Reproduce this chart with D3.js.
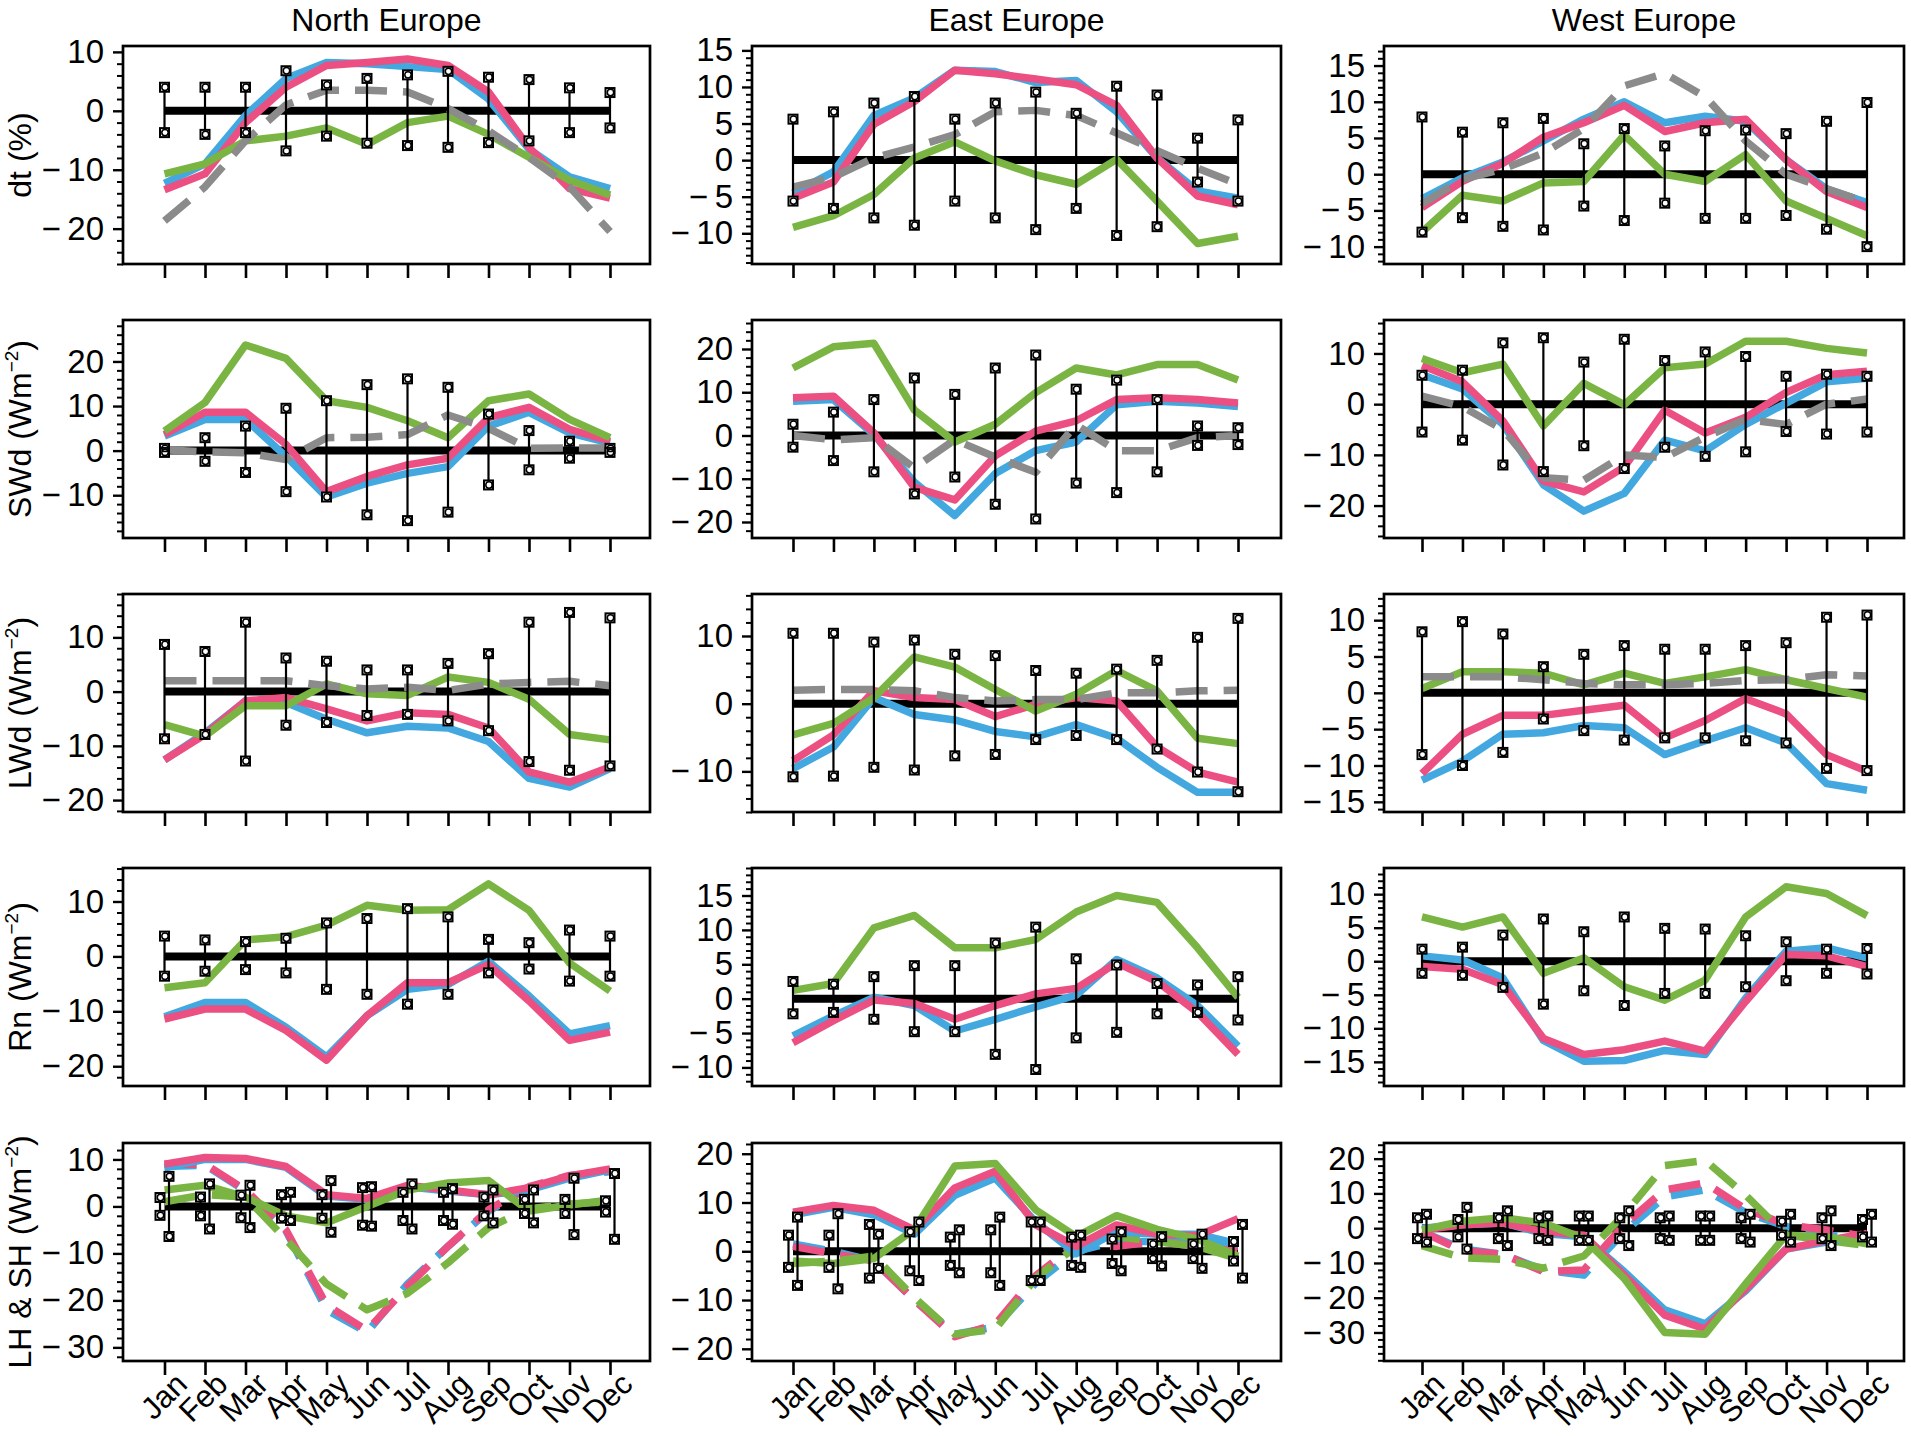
<!DOCTYPE html>
<html>
<head>
<meta charset="utf-8">
<script src="https://cdn.jsdelivr.net/npm/d3@7"></script>
<style>
  body { margin: 0; background: #fff; }
  text { font-family: "Liberation Sans", Arial, Helvetica, sans-serif; fill: #000; }
</style>
</head>
<body>
<svg id="chart"></svg>
<script>
const months = ["Jan", "Feb", "Mar", "Apr", "May", "Jun", "Jul", "Aug", "Sep", "Oct", "Nov", "Dec"];
const regions = ["North Europe", "East Europe", "West Europe"];
const rowNames = ["dt", "SWd", "LWd", "Rn", "LH & SH"];

// series order in each panel array: blue, pink, green, grey (grey dashed, where present)
// error arrays: [upper, lower]

// ---- dt (%)
const dtNorth = [
  [-12.3, -9, -0.8, 5.5, 8.2, 8, 7.5, 7, 2, -6.5, -11.2, -13.2],
  [-13.4, -10.7, -2, 4, 7.7, 8.2, 8.8, 7.7, 3.2, -6.2, -13.2, -14.8],
  [-10.7, -9, -5.1, -4.3, -2.9, -5.7, -2, -0.9, -4, -7.9, -11.8, -14.3],
  [-18.7, -12.9, -5.1, 1, 3.5, 3.5, 3.2, 0.4, -3.4, -7.9, -12.9, -20.5]
];
const dtNorthErr = [
  [4, 4, 4, 6.8, 4.4, 5.5, 6.1, 6.7, 5.7, 5.3, 3.9, 3.1],
  [-3.7, -4, -3.7, -6.8, -4.3, -5.5, -5.9, -6.2, -5.4, -5.1, -3.7, -2.9]
];
const dtEast = [
  [-4.5, -1.6, 6.1, 8.5, 12.3, 12.1, 10.6, 10.9, 6.6, 0.3, -4.2, -5.2],
  [-5.2, -3, 4.9, 8, 12.3, 11.8, 11.1, 10.3, 7.5, 0.3, -4.9, -6.1],
  [-9.2, -7.6, -4.7, 0.3, 2.5, -0.1, -2, -3.3, 0.1, -5.6, -11.4, -10.4],
  [-3.7, -2.3, 0.3, 1.8, 3.5, 6.6, 6.8, 6.1, 3.7, 1.3, -1.1, -3.3]
];
const dtEastErr = [
  [5.6, 6.6, 7.8, 8.7, 5.6, 7.8, 9.3, 6.4, 10.1, 8.9, 3, 5.5],
  [-5.6, -6.6, -7.9, -8.9, -5.6, -7.9, -9.5, -6.6, -10.3, -9.1, -3, -5.6]
];
const dtWest = [
  [-3.4, -0.5, 1.7, 4.6, 7.6, 10, 7.1, 8, 7.3, 2, -2, -3.9],
  [-4.6, -1, 1.5, 5.1, 7.1, 9.5, 5.9, 7.1, 7.6, 2, -2.4, -4.6],
  [-8, -2.9, -3.7, -1.2, -1, 5.4, 0, -1, 2.7, -3.7, -6.1, -8.5],
  [-4.1, -0.7, 0.7, 2.9, 6.3, 12.2, 13.9, 10.7, 4.6, 0, -2, -3.9]
];
const dtWestErr = [
  [7.9, 5.8, 7.1, 7.7, 4.2, 6.3, 3.9, 6, 6.1, 5.6, 7.3, 9.9],
  [-8, -6, -7.2, -7.7, -4.4, -6.4, -4, -6.1, -6.1, -5.7, -7.6, -10]
];

// ---- SWd (Wm-2)
const swNorth = [
  [3.3, 7, 7, -1.3, -10.4, -7.3, -5.1, -3.6, 5.5, 8.6, 4, 1.7],
  [3.6, 8.6, 8.6, 1.4, -9.2, -5.8, -3.2, -1.7, 7.4, 9.7, 4.8, 2.1],
  [4.4, 10.8, 23.7, 20.7, 11.2, 9.7, 6.7, 2.9, 11.2, 12.7, 7, 2.9],
  [0.2, -0.3, -0.5, -2, 2.9, 3, 3.6, 8, 5, 0.5, 0.6, 0.6]
];
const swNorthErr = [
  [0.5, 2.9, 5.5, 9.5, 11.2, 14.8, 16.1, 14.2, 8.2, 4.5, 2.1, 0.5],
  [-0.4, -2.4, -4.9, -9.2, -10.4, -14.4, -15.7, -13.8, -7.7, -4.3, -1.7, -0.4]
];
const swEast = [
  [7.9, 8.3, 0.2, -10.8, -18.5, -8.8, -3.5, -1.5, 7.1, 7.9, 7.5, 6.7],
  [8.7, 9.1, 0.6, -12, -14.9, -4.7, 1, 3.4, 8.3, 8.7, 8.3, 7.5],
  [15.6, 20.5, 21.3, 5.9, -1.5, 2.6, 9.9, 15.6, 14, 16.4, 16.4, 12.8],
  [0, -1, -0.5, -7.5, -1, -5, -8.5, 2.5, -3.5, -3.5, -0.5, 0]
];
const swEastErr = [
  [2.6, 5.4, 8.3, 13.3, 9.5, 15.6, 18.6, 10.7, 12.8, 8.3, 2.2, 1.8],
  [-2.7, -5.8, -8.4, -13.5, -9.6, -15.9, -19.3, -11, -13.2, -8.4, -2.3, -2.1]
];
const swWest = [
  [5.8, 3, -4, -15.9, -21.1, -17.6, -7.1, -9.2, -4, 0.2, 4.4, 5.1],
  [7.6, 4.4, -3.3, -15.2, -17.3, -12.4, -1.2, -5.7, -2.6, 2.3, 5.8, 6.5],
  [9, 6.2, 7.9, -4.3, 4.1, -0.1, 7.2, 7.9, 12.4, 12.4, 11, 10.1],
  [1.6, -0.5, -5, -14.5, -15, -10, -10.5, -6.5, -3, -4, 0, 1]
];
const swWestErr = [
  [5.7, 6.7, 12.1, 13.1, 8.3, 12.8, 8.6, 10.3, 9.4, 5.5, 5.9, 5.5],
  [-5.5, -7.1, -12, -13.3, -8.2, -12.7, -8.5, -10.3, -9.4, -5.4, -5.9, -5.5]
];

// ---- LWd (Wm-2)
const lwNorth = [
  [-12.6, -7.6, -1.7, -2, -5.1, -7.6, -6.4, -6.7, -9.2, -16, -17.6, -14.2],
  [-12.6, -7.9, -1.7, -1.1, -3.2, -5.4, -3.9, -4.2, -6.7, -14.8, -16.7, -13.9],
  [-6.1, -8.2, -2.6, -2.6, 1.4, -0.4, -0.7, 2.7, 1.7, -1.4, -7.9, -8.9],
  [2, 2, 2, 2, 1.1, 0.5, 0.8, 0.2, 1.4, 1.7, 1.9, 1.1]
];
const lwNorthErr = [
  [8.7, 7.4, 12.8, 6.2, 5.6, 4, 4, 5.2, 7, 12.8, 14.6, 13.6],
  [-8.7, -7.9, -12.8, -6.2, -5.7, -4.4, -4.2, -5.4, -7.2, -12.9, -14.5, -13.7]
];
const lwEast = [
  [-9.6, -6.4, 0.9, -1.6, -2.4, -4.1, -4.9, -3.1, -5.1, -9.4, -13.1, -13.1],
  [-8.4, -4.6, 1.9, 0.9, 0.6, -1.9, -0.1, 0.9, 0.4, -6.4, -10.1, -11.6],
  [-4.6, -2.9, 0.9, 6.9, 5.4, 2.1, -1.1, 1.4, 4.9, 1.9, -5.1, -5.9],
  [2, 2.1, 2.1, 1.9, 0.9, 0.4, 0.6, 0.6, 1.6, 1.6, 1.9, 2]
];
const lwEastErr = [
  [10.4, 10.4, 9.1, 9.4, 7.3, 7.1, 4.9, 4.5, 5.1, 6.4, 9.8, 12.6],
  [-10.8, -10.7, -9.4, -9.8, -7.7, -7.5, -5.3, -4.7, -5.3, -6.7, -10.1, -13]
];
const lwWest = [
  [-12, -9.4, -5.7, -5.5, -4.5, -4.8, -8.5, -6.6, -4.8, -6.9, -12.5, -13.4],
  [-11.1, -5.7, -3.1, -3.1, -2.4, -1.7, -6.2, -3.8, -0.8, -2.9, -8.5, -10.8],
  [0.6, 2.9, 2.9, 2.7, 1.1, 2.7, 1.3, 2.2, 3.2, 1.8, 0.6, -0.6],
  [2.2, 2.2, 2.2, 1.8, 1.3, 1.1, 1.1, 1.3, 1.7, 1.8, 2.5, 2.3]
];
const lwWestErr = [
  [8.4, 9.8, 8.1, 3.6, 5.3, 6.5, 6, 6, 6.5, 6.9, 10.4, 10.7],
  [-8.5, -10, -8.2, -3.6, -5.2, -6.5, -6.2, -6.2, -6.6, -6.9, -10.4, -10.7]
];

// ---- Rn (Wm-2): blue, pink, green only
const rnNorth = [
  [-11, -8.4, -8.4, -12.9, -18.3, -10.8, -6, -5.1, -0.9, -7.2, -14.1, -12.6],
  [-11.4, -9.6, -9.6, -13.5, -18.9, -10.8, -4.8, -4.8, -1.5, -8.1, -15.3, -13.8],
  [-5.7, -4.8, 3, 3.6, 5.7, 9.3, 8.4, 8.5, 13.2, 8.4, -1.2, -6.3]
];
const rnNorthErr = [
  [3.7, 3, 2.7, 3.3, 6.1, 6.9, 8.7, 7.2, 3.1, 2.5, 4.8, 3.7],
  [-3.6, -2.7, -2.4, -3, -6, -6.9, -8.7, -6.9, -3, -2.3, -4.5, -3.6]
];
const rnEast = [
  [-5.4, -2.5, 0.2, -1, -4.7, -3, -1.2, 0.5, 5.7, 3, -1, -6.9],
  [-6.4, -3.2, -0.2, -0.7, -3, -1, 0.7, 1.5, 5.2, 2.5, -2, -8.1],
  [1.2, 2.2, 10.3, 12.1, 7.4, 7.4, 8.6, 12.6, 15, 14, 7.4, 0.2]
];
const rnEastErr = [
  [2.5, 2.1, 3.2, 4.8, 4.8, 8.1, 10.4, 5.8, 4.9, 2.2, 2, 3.2],
  [-2.2, -2, -3, -4.8, -4.8, -8.1, -10.3, -5.7, -4.9, -2.2, -2, -3.1]
];
const rnWest = [
  [0.8, 0.2, -2.5, -11.8, -14.9, -14.8, -13.3, -13.9, -5.5, 1.5, 2, 0.5],
  [-0.8, -1.2, -3.5, -11.5, -13.9, -13.2, -11.9, -13.4, -6, 1, 0.8, -0.8],
  [6.6, 5.1, 6.6, -1.8, 0.5, -3.8, -5.8, -2.8, 6.6, 11.1, 10.1, 6.8]
];
const rnWestErr = [
  [1.8, 2.1, 3.9, 6.3, 4.4, 6.6, 4.9, 4.8, 3.8, 2.9, 1.8, 1.9],
  [-1.8, -2.1, -3.9, -6.4, -4.4, -6.6, -4.8, -4.8, -3.8, -2.9, -1.8, -1.9]
];

// ---- LH & SH (Wm-2): solid and dashed sets (blue, pink, green); two error half-widths
const fluxNorthSolid = [
  [8.2, 10, 10, 8.3, 2.2, 1.5, 4.2, 3.3, 2.5, 3.5, 6, 7.8],
  [9, 10.4, 10.2, 8.5, 2.5, 1.7, 4.5, 3.5, 2.5, 4, 6.5, 8],
  [3.5, 4.5, 2, -2, -3.5, 0, 3.5, 5, 5.5, -1, 0.3, 1.4]
];
const fluxNorthDashed = [
  [8.5, 8.8, 3.3, -5.2, -22, -26.8, -16.5, -8.5, -1, 4, 6.4, 7.4],
  [9, 9, 3.5, -5, -21, -26.4, -17, -8.5, -0.7, 4.2, 6.6, 7.6],
  [1, 2.5, 2, -7, -16.5, -22, -18.5, -12, -4.5, -0.5, 0.5, 1]
];
const fluxNorthErr = [
  [1.9, 2, 2.4, 2.5, 2.5, 4, 3, 3, 2, 1.5, 1.5, 1.2],
  [6.4, 4.8, 4.5, 3, 5.5, 4.2, 4.8, 3.8, 3.5, 3.5, 6, 7]
];
const fluxEastSolid = [
  [7.5, 9, 7.5, 3.5, 11.5, 15, 6, -0.5, 4, 3.5, 3.5, 1.5],
  [8, 9.4, 8.4, 4.4, 13, 16.4, 5.4, 1, 5.4, 3.5, 3.2, 6.7],
  [-2, -2.5, -1.5, 4.5, 17.5, 18, 8.5, 3, 7.3, 4.5, 2.5, -1]
];
const fluxEastDashed = [
  [1.5, 0, -2, -10, -17, -15.5, -6.5, 0, 2, 2, 2, 1],
  [1, -0.5, -2, -10, -17.5, -15, -5, 1.5, 1, 2, 1, 0],
  [-2.5, -2, -1, -9.5, -17, -16, -5.5, 1, 3, 2, 1, -1.5]
];
const fluxEastErr = [
  [3.3, 3.3, 5.5, 4, 2.9, 4.4, 6, 2.9, 2.5, 1.5, 1.5, 2],
  [7, 7.7, 3.5, 6, 4.4, 7, 6, 3.3, 4, 3, 3.5, 5.5]
];
const fluxWestSolid = [
  [0, 1, 1.5, -1.5, -2.5, -12.5, -23.5, -27.5, -18, -6, -4, -2],
  [-0.5, 1, 1.5, -1, -2, -13.5, -25, -29, -17.5, -6, -3.5, -1.5],
  [-0.5, 2, 3, 1.5, -3, -14.5, -30, -30.5, -16, -2, -2.5, -4.5]
];
const fluxWestDashed = [
  [-1, -6, -7.5, -12, -13.5, -1, 9, 11, 4.5, 0.5, -2, -3],
  [-1, -6.5, -7.5, -12.5, -12, 1, 11, 13, 5.5, 1, -0.5, -2.5],
  [-5, -8.5, -9, -11.5, -8, 4, 18, 19.5, 9.5, -2, -3.5, -5]
];
const fluxWestErr = [
  [3, 2.5, 3, 3, 3.5, 3, 3, 3.5, 3, 2, 3, 2.5],
  [4, 6, 5, 3.5, 3.5, 5, 3.5, 3.5, 4, 4, 5, 4]
];

// y-axis ranges and label steps, row by row (North, East, West)
const yDomains = [
  [[-26, 11], [-14.2, 15.6], [-12.4, 17.7]],
  [[-19.6, 29.3], [-23.7, 26.7], [-26.4, 16.6]],
  [[-22.2, 18], [-16, 16.2], [-16.4, 13.6]],
  [[-23.6, 16.1], [-12.7, 19], [-18.6, 13.9]],
  [[-32.9, 13.5], [-22.5, 22.2], [-38.2, 24.5]]
];
const ySteps = [[10, 5, 5], [10, 10, 10], [10, 10, 5], [10, 5, 5], [10, 10, 10]];

// ---- layout
const W = 1911, H = 1436;
const colBox = [[123, 650], [752, 1281], [1384, 1904]];
const monthSpan = [[164.5, 610], [793, 1238], [1422, 1867]];
const rowTop = [46, 320, 594, 868, 1143];
const rowH = 218;
const colours = ["#42a8df", "#ec4f81", "#7ab544"];
const grey = "#8b8b8b";
const lineW = 7.5;
const fontStack = '"Liberation Sans", Arial, Helvetica, sans-serif';

const svg = d3.select("#chart").attr("width", W).attr("height", H);

const lineSets = [
  [dtNorth, dtEast, dtWest],
  [swNorth, swEast, swWest],
  [lwNorth, lwEast, lwWest],
  [rnNorth, rnEast, rnWest]
];
const errSets = [
  [dtNorthErr, dtEastErr, dtWestErr],
  [swNorthErr, swEastErr, swWestErr],
  [lwNorthErr, lwEastErr, lwWestErr],
  [rnNorthErr, rnEastErr, rnWestErr]
];
const fluxSolid = [fluxNorthSolid, fluxEastSolid, fluxWestSolid];
const fluxDashed = [fluxNorthDashed, fluxEastDashed, fluxWestDashed];
const fluxErr = [fluxNorthErr, fluxEastErr, fluxWestErr];

const panels = [];
for (let r = 0; r < 5; r++) {
  for (let c = 0; c < 3; c++) {
    const p = { row: r, col: c, domain: yDomains[r][c], step: ySteps[r][c] };
    if (r < 4) {
      const s = lineSets[r][c];
      p.solid = s.slice(0, 3).map((v, i) => ({ values: v, colour: colours[i] }));
      p.dashed = s.length > 3 ? [{ values: s[3], colour: grey }] : [];
      p.bars = [{ off: 0, up: errSets[r][c][0], lo: errSets[r][c][1] }];
    } else {
      p.solid = fluxSolid[c].map((v, i) => ({ values: v, colour: colours[i] }));
      p.dashed = fluxDashed[c].map((v, i) => ({ values: v, colour: colours[i] }));
      p.bars = fluxErr[c].map((h, k) => ({ off: k === 0 ? -4.5 : 4.5, up: h, lo: h.map(v => -v) }));
    }
    panels.push(p);
  }
}

// wide minus like the original tick labels
const tickText = d => (d < 0 ? "\u2212\u2009" + Math.abs(d) : String(d));

function drawPanel(p) {
  const [x0, x1] = colBox[p.col];
  const top = rowTop[p.row], bottom = top + rowH;
  const x = d3.scaleLinear().domain([0, 11]).range(monthSpan[p.col]);
  const y = d3.scaleLinear().domain(p.domain).range([bottom, top]);
  const g = svg.append("g");

  // y axis: majors with labels, minors at a fifth of the step
  const minor = p.step / 5;
  const majors = d3.range(Math.ceil(p.domain[0] / p.step), Math.floor(p.domain[1] / p.step) + 1).map(k => k * p.step);
  const minors = d3.range(Math.ceil(p.domain[0] / minor), Math.floor(p.domain[1] / minor) + 1)
    .filter(k => k % 5 !== 0).map(k => k * minor);

  g.append("g")
    .attr("transform", `translate(${x0},0)`)
    .call(d3.axisLeft(y).tickValues(minors).tickSize(6).tickFormat(""))
    .call(a => a.select(".domain").remove())
    .call(a => a.selectAll("line").attr("stroke-width", 2));

  g.append("g")
    .attr("transform", `translate(${x0},0)`)
    .call(d3.axisLeft(y).tickValues(majors).tickSize(10).tickPadding(9).tickFormat(tickText))
    .call(a => a.select(".domain").remove())
    .call(a => a.selectAll("line").attr("stroke-width", 2.4))
    .call(a => a.selectAll("text").attr("font-size", 33).attr("fill", "#000")
      .style("font-family", fontStack));

  // month ticks below each panel, names on the bottom row only
  const xAxis = g.append("g")
    .attr("transform", `translate(0,${bottom})`)
    .call(d3.axisBottom(x).tickValues(d3.range(12)).tickSize(14)
      .tickFormat(p.row === 4 ? i => months[i] : () => ""))
    .call(a => a.select(".domain").remove())
    .call(a => a.selectAll("line").attr("stroke-width", 2.6));
  if (p.row === 4) {
    xAxis.selectAll("text")
      .attr("font-size", 31).attr("fill", "#000")
      .style("font-family", fontStack)
      .attr("text-anchor", "end")
      .attr("x", 0).attr("y", 0).attr("dy", 0)
      .attr("transform", "translate(24,25) rotate(-45)");
  }

  // frame
  g.append("rect")
    .attr("x", x0).attr("y", top)
    .attr("width", x1 - x0).attr("height", rowH)
    .attr("fill", "none").attr("stroke", "#000").attr("stroke-width", 2.7);

  // zero line
  g.append("line")
    .attr("x1", x(0)).attr("x2", x(11))
    .attr("y1", y(0)).attr("y2", y(0))
    .attr("stroke", "#000").attr("stroke-width", 8);

  const line = d3.line().x((d, i) => x(i)).y(d => y(d));

  const drawSet = (set, dashed) => {
    g.selectAll(null)
      .data(set)
      .join("path")
      .attr("d", d => line(d.values))
      .attr("fill", "none")
      .attr("stroke", d => d.colour)
      .attr("stroke-width", lineW)
      .attr("stroke-linejoin", "round")
      .attr("stroke-dasharray", dashed ? "32,16" : null);
  };
  if (p.row === 4) {
    drawSet(p.dashed, true);
    drawSet(p.solid, false);
  } else {
    drawSet(p.solid, false);
    drawSet(p.dashed, true);
  }

  // spread bars with small end markers
  p.bars.forEach(b => {
    const bars = months.map((m, i) => ({ x: x(i) + b.off, up: y(b.up[i]), lo: y(b.lo[i]) }));
    const bg = g.append("g").attr("stroke", "#000").attr("fill", "none");
    bg.selectAll("line")
      .data(bars)
      .join("line")
      .attr("x1", d => d.x).attr("x2", d => d.x)
      .attr("y1", d => d.up).attr("y2", d => d.lo)
      .attr("stroke-width", 2.2);
    const ends = bars.flatMap(d => [{ x: d.x, y: d.up }, { x: d.x, y: d.lo }]);
    bg.selectAll("rect")
      .data(ends)
      .join("rect")
      .attr("x", d => d.x - 4.5).attr("y", d => d.y - 4.5)
      .attr("width", 9).attr("height", 9)
      .attr("fill", "#fff")
      .attr("stroke-width", 2);
    bg.selectAll("circle")
      .data(ends)
      .join("circle")
      .attr("cx", d => d.x + 0.5).attr("cy", d => d.y)
      .attr("r", 3.2)
      .attr("stroke-width", 1.5);
  });
}

panels.forEach(drawPanel);

// column titles
svg.selectAll(".title")
  .data(regions)
  .join("text")
  .attr("class", "title")
  .attr("x", (d, i) => (colBox[i][0] + colBox[i][1]) / 2)
  .attr("y", 31)
  .attr("text-anchor", "middle")
  .attr("font-size", 32)
  .text(d => d);

// row labels on the left column
rowNames.forEach((name, r) => {
  const t = svg.append("text")
    .attr("text-anchor", "middle")
    .attr("font-size", 32)
    .attr("transform", `translate(31,${rowTop[r] + rowH / 2}) rotate(-90)`);
  if (r === 0) {
    t.text("dt (%)");
  } else {
    t.append("tspan").text(name + " (Wm");
    t.append("tspan").attr("font-size", 19).attr("dy", -13).text("−2");
    t.append("tspan").attr("dy", 13).text(")");
  }
});
</script>
</body>
</html>
